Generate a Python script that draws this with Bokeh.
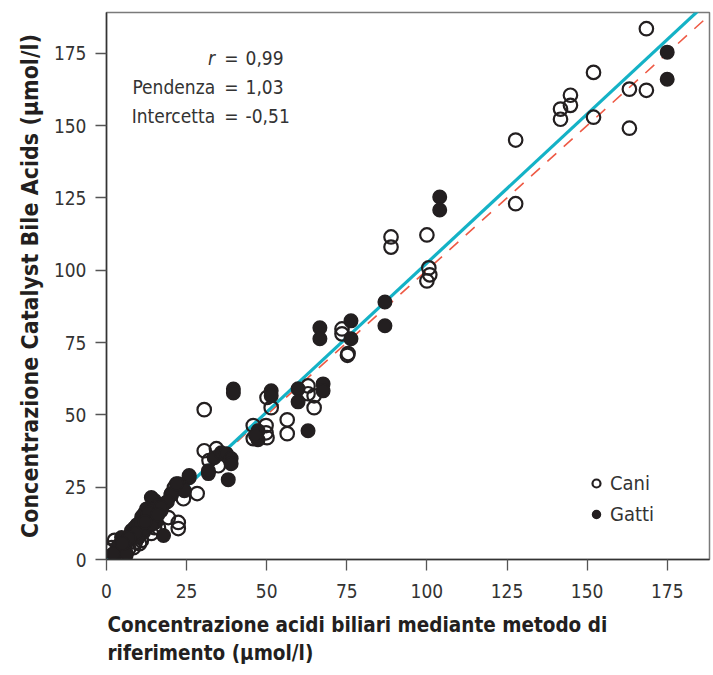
from bokeh.plotting import figure
from bokeh.models import Range1d, FixedTicker, Label, Title
from bokeh.embed import file_html
from bokeh.resources import INLINE

# ---- data ----
cani_x = [168.5, 152.0, 144.8, 144.8, 141.7, 141.7, 152.0, 163.2, 168.5, 163.2,
          127.7, 127.7, 88.8, 88.8, 100.0, 100.6, 100.9, 100.0, 73.5, 73.5,
          75.4, 75.2,
          30.5, 50.1, 51.4, 62.9, 62.9, 64.8, 64.8, 56.4, 56.4, 45.8,
          49.8, 49.8, 50.1, 45.8, 30.5, 34.3, 34.9, 32.0, 28.3, 21.2,
          24.0, 20.2, 22.4, 22.4, 19.3, 16.2, 15.0, 14.0, 10.9, 12.0,
          2.5, 5.6, 1.6, 0.6, 6.9, 8.4, 4.7, 10.3, 3.0, 7.5, 17.0, 13.0,
          1.0, 2.0, 4.0, 9.0, 11.5, 6.0]
cani_y = [183.5, 168.4, 160.5, 157.0, 155.7, 152.2, 152.9, 162.6, 162.2, 149.1,
          145.0, 123.0, 111.5, 108.0, 112.2, 100.8, 98.4, 96.3, 79.7, 78.0,
          71.2, 70.6,
          51.8, 56.0, 52.5, 60.0, 57.3, 56.6, 52.5, 48.3, 43.5, 46.3,
          46.3, 43.8, 42.1, 41.8, 37.6, 38.3, 32.4, 34.2, 22.8, 24.9,
          21.0, 22.4, 12.8, 10.7, 14.5, 11.0, 11.0, 9.0, 6.6, 14.5,
          6.6, 5.5, 4.1, 3.1, 3.8, 4.1, 1.4, 5.5, 2.5, 7.0, 17.0, 11.5,
          1.0, 0.5, 3.0, 6.0, 9.5, 1.5]

gatti_x = [175.0, 175.0, 104.0, 104.0, 86.9, 86.9, 66.6, 66.6, 76.3, 76.3,
           39.6, 39.6, 51.4, 51.4, 59.8, 59.8, 67.6, 67.6, 62.9, 47.3,
           47.3, 46.5, 33.6, 35.8, 37.4, 38.9, 38.9, 31.8, 31.8, 38.0,
           25.8, 25.8, 22.4, 24.3, 20.2, 21.8,
           15.0, 14.0, 18.1, 16.5, 11.8, 10.9, 8.7, 7.8, 17.8, 10.0,
           4.7, 3.7, 2.2, 6.2, 12.5, 13.5, 16.0, 19.0, 9.5, 14.5,
           11.0, 17.0, 15.5, 6.0, 8.0, 12.0,
           13.0, 10.5, 9.0, 7.0, 5.0, 14.0, 12.0, 16.0]
gatti_y = [175.4, 166.0, 125.3, 120.8, 89.0, 80.8, 80.1, 76.3, 82.5, 76.3,
           58.9, 57.6, 58.3, 56.6, 59.0, 54.5, 60.7, 58.3, 44.5, 44.5,
           41.4, 43.0, 35.2, 36.9, 36.6, 34.9, 33.1, 29.7, 30.7, 27.6,
           28.3, 29.0, 26.2, 23.8, 22.8, 26.2,
           20.4, 21.4, 19.3, 16.9, 15.9, 13.5, 11.0, 10.0, 8.3, 7.6,
           7.6, 4.8, 2.1, 2.1, 17.5, 14.0, 18.5, 20.0, 12.0, 17.0,
           14.8, 18.0, 13.0, 6.0, 8.5, 10.5,
           16.0, 12.5, 9.0, 7.5, 5.5, 12.0, 13.0, 15.5]

x_ticks = [0, 25, 50, 75, 100, 125, 150, 175]
y_ticks = [0, 25, 50, 75, 100, 125, 150, 175]

slope = 1.03
intercept = -0.51
fit_x = [0.0, 190.0]
ident_x = [0.0, 190.0]

stats_names = ["r", "Pendenza", "Intercetta"]
stats_values = ["0,99", "1,03", "-0,51"]

x_title_lines = ["Concentrazione acidi biliari mediante metodo di",
                 "riferimento (\u03bcmol/l)"]

FONT = "'DejaVu Sans Condensed', 'Liberation Sans', sans-serif"
INK = "#231f20"

p = figure(width=711, height=675, output_backend="svg", toolbar_location=None,
           x_range=Range1d(0, 188.2), y_range=Range1d(0, 189.1),
           min_border_left=106, min_border_right=2, min_border_top=12,
           min_border_bottom=116)
p.background_fill_color = "white"
p.border_fill_color = "white"
p.grid.visible = False
p.outline_line_color = "#7a7a7a"
p.outline_line_width = 1.5

for ax, ticks in ((p.xaxis, x_ticks), (p.yaxis, y_ticks)):
    ax.ticker = FixedTicker(ticks=ticks)
    ax.minor_tick_line_color = None
    ax.major_tick_in = 0
    ax.major_tick_out = 11
    ax.major_tick_line_color = "#555555"
    ax.major_tick_line_width = 1.3
    ax.axis_line_color = "#333333"
    ax.axis_line_width = 1.5
    ax.major_label_text_font = FONT
    ax.major_label_text_font_size = "19px"
    ax.major_label_text_color = "#333333"

p.xaxis.major_label_standoff = 13
p.yaxis.major_label_standoff = 9
p.xaxis.axis_label = None

p.yaxis.axis_label = "Concentrazione Catalyst Bile Acids (\u03bcmol/l)"
p.yaxis.axis_label_text_font = FONT
p.yaxis.axis_label_text_font_size = "23px"
p.yaxis.axis_label_text_font_style = "bold"
p.yaxis.axis_label_text_color = INK
p.yaxis.axis_label_standoff = 8

# identity line and regression line
p.line(ident_x, ident_x, line_color="#ee5a45", line_width=1.6, line_dash="12 10")
p.line(fit_x, [slope * v + intercept for v in fit_x], line_color="#14b2c6", line_width=3.2)

p.scatter(cani_x, cani_y, marker="circle", size=13.5, fill_color=None,
          line_color=INK, line_width=2.2, legend_label="Cani")
p.scatter(gatti_x, gatti_y, marker="circle", size=13.5, fill_color=INK,
          line_color=INK, line_width=1.5, legend_label="Gatti")

lg = p.legend[0]
lg.location = (480, 33)
lg.background_fill_alpha = 0
lg.border_line_color = None
lg.padding = 0
lg.margin = 0
lg.spacing = 7
lg.glyph_width = 20
lg.glyph_height = 20
lg.label_text_font = FONT
lg.label_text_font_size = "20px"
lg.label_text_color = "#333333"
lg.label_standoff = 4

# statistics annotation
ys = [173.3, 163.3, 153.2]
for name, val, yv in zip(stats_names, stats_values, ys):
    p.add_layout(Label(x=33.9, y=yv, text=name, text_align="right", text_baseline="middle",
                       text_font=FONT, text_font_size="19px", text_color="#333333",
                       text_font_style="italic" if name == "r" else "normal"))
    p.add_layout(Label(x=39.0, y=yv, text="=", text_align="center", text_baseline="middle",
                       text_font=FONT, text_font_size="19px", text_color="#333333"))
    p.add_layout(Label(x=43.4, y=yv, text=val, text_align="left", text_baseline="middle",
                       text_font=FONT, text_font_size="19px", text_color="#333333"))

# x axis title: one two-line, left-aligned title below the axis
xt = Title(text="\n".join(x_title_lines), align="left",
           text_font=FONT, text_font_size="20.5px", text_font_style="bold",
           text_color=INK, standoff=21, offset=1, text_line_height=1.15)
p.add_layout(xt, "below")

open("out.html", "w").write(file_html(p, INLINE))
